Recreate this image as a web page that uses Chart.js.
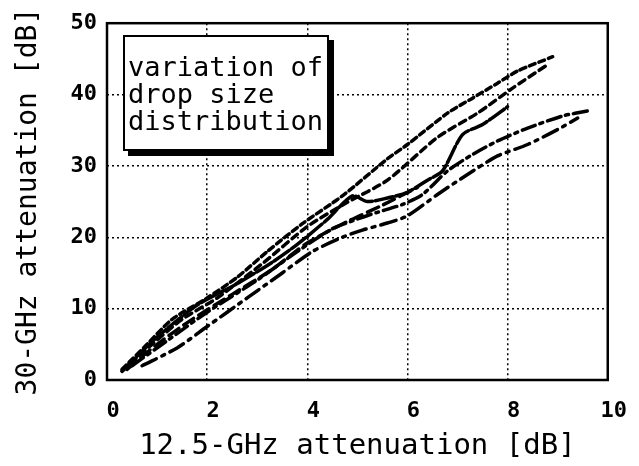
<!DOCTYPE html>
<html>
<head>
<meta charset="utf-8">
<script src="https://cdn.jsdelivr.net/npm/chart.js@4.4.1/dist/chart.umd.min.js"></script>
<style>
  body { margin: 0; background: #fff; }
  #wrap { position: relative; width: 639px; height: 466px; }
  #note {
    position: absolute; left: 123px; top: 35px; width: 206px; height: 116px;
    border: 2px solid #000; box-shadow: 5px 5px 0 #000; background: #fff;
    font-family: "DejaVu Sans Mono", monospace; font-size: 27px; line-height: 27px;
    padding: 16px 0 0 3px; box-sizing: border-box; color: #000;
  }
</style>
</head>
<body>
<div id="wrap">
  <canvas id="myChart" width="639" height="466"></canvas>
  <div id="note">variation of<br>drop size<br>distribution</div>
</div>
<script>
// values (12.5 GHz vs 30 GHz attenuation, dB)
const xTicks = [0, 2, 4, 6, 8, 10];
const yTicks = [0, 10, 20, 30, 40, 50];

const xA = [0.3, 0.8, 1.3, 2.0, 2.6, 3.2, 3.9, 4.7, 5.6, 6.0, 6.8, 7.3, 7.8, 8.2, 8.9];
const yA = [1.5, 5.0, 8.5, 11.5, 14.4, 18.0, 21.9, 25.8, 31.0, 33.0, 37.4, 39.5, 41.6, 43.3, 45.3];

const xB = [0.3, 0.9, 1.5, 2.2, 3.1, 4.0, 4.8, 5.6, 6.6, 7.4, 8.1, 8.8];
const yB = [1.2, 5.0, 8.5, 11.5, 16.3, 21.5, 24.9, 28.0, 34.0, 37.4, 40.9, 44.2];

const xC = [0.3, 1.0, 1.8, 2.6, 3.3, 3.8, 4.4, 4.9, 5.2, 5.6, 6.0, 6.4, 6.7, 7.1, 7.5, 8.0];
const yC = [1.3, 6.0, 10.5, 13.5, 16.5, 19.0, 22.5, 25.8, 25.0, 25.5, 26.3, 28.0, 29.3, 34.4, 35.8, 38.3];

const xD = [0.5, 1.2, 2.0, 3.0, 3.8, 4.5, 4.9, 5.4, 5.9, 6.3, 6.8, 7.3, 7.8, 8.4, 9.1, 9.6];
const yD = [2.0, 5.5, 9.5, 14.0, 18.0, 21.2, 22.3, 23.5, 24.6, 26.0, 29.3, 31.6, 33.5, 35.3, 37.0, 37.7];

const xE = [0.7, 1.4, 2.0, 2.8, 3.5, 4.1, 4.7, 5.1, 5.6, 6.0, 6.6, 7.2, 7.8, 8.4, 9.0, 9.4];
const yE = [2.0, 4.5, 7.5, 11.5, 15.0, 18.0, 20.0, 21.0, 22.0, 23.0, 26.0, 28.8, 31.4, 33.0, 35.1, 36.7];

const xF = [0.4, 1.0, 1.7, 2.5, 3.3, 4.0, 4.8, 5.5, 6.2];
const yF = [1.5, 5.0, 8.5, 12.0, 15.5, 19.2, 22.2, 24.5, 27.0];

function pts(xs, ys) {
  return xs.map((x, i) => ({ x: x, y: ys[i] }));
}

function line(xs, ys, dash, w) {
  return {
    data: pts(xs, ys),
    showLine: true,
    borderColor: "#000",
    borderWidth: w,
    borderDash: dash,
    borderCapStyle: "round",
    pointRadius: 0,
    tension: 0.25,
    fill: false
  };
}

// plot frame round the whole chart area
const frame = {
  id: "frame",
  afterDraw(chart) {
    const a = chart.chartArea, c = chart.ctx;
    c.save();
    c.strokeStyle = "#000";
    c.lineWidth = 2.5;
    c.strokeRect(a.left, a.top, a.right - a.left, a.bottom - a.top);
    c.restore();
  }
};

const tickFont = { family: "DejaVu Sans Mono", size: 22, weight: "bold" };
const gridOpt = { color: "#000", lineWidth: 1.5, drawTicks: false };

new Chart("myChart", {
  type: "scatter",
  data: {
    datasets: [
      line(xA, yA, [6, 4], 3.5),
      line(xB, yB, [7, 5], 3.5),
      line(xC, yC, [18, 3], 3.5),
      line(xD, yD, [14, 5, 3, 5], 3.5),
      line(xE, yE, [16, 6, 3, 6], 3.5),
      line(xF, yF, [12, 6], 3.5)
    ]
  },
  options: {
    responsive: false,
    animation: false,
    layout: { padding: { top: 19, right: 31, left: 0, bottom: 0 } },
    plugins: { legend: { display: false }, tooltip: { enabled: false } },
    scales: {
      x: {
        type: "linear", min: 0, max: 10,
        afterBuildTicks: s => { s.ticks = xTicks.map(v => ({ value: v })); },
        afterFit: s => { s.height = 86; },
        ticks: { color: "#000", font: tickFont, padding: 18, maxRotation: 0, labelOffset: 6 },
        grid: gridOpt,
        border: { display: false, dash: [2, 3] },
        title: { display: true, text: "12.5-GHz attenuation [dB]", color: "#000",
                 font: { family: "DejaVu Sans Mono", size: 29 }, padding: { top: 0, bottom: 2 } }
      },
      y: {
        type: "linear", min: 0, max: 50,
        afterBuildTicks: s => { s.ticks = yTicks.map(v => ({ value: v })); },
        afterFit: s => { s.width = 107; },
        ticks: { color: "#000", font: tickFont, padding: 10 },
        grid: gridOpt,
        border: { display: false, dash: [2, 3] },
        title: { display: true, text: "30-GHz attenuation [dB]", color: "#000",
                 font: { family: "DejaVu Sans Mono", size: 28 }, padding: { top: 12, bottom: 0 } }
      }
    }
  },
  plugins: [frame]
});
</script>
</body>
</html>
